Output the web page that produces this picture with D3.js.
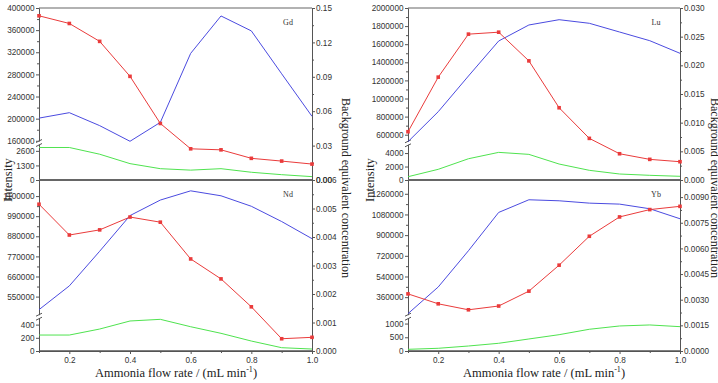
<!DOCTYPE html>
<html>
<head>
<meta charset="utf-8">
<script src="https://cdn.jsdelivr.net/npm/d3@7"></script>
<style>
body { margin: 0; background: #fff; }
.axis text { font-family: "Liberation Sans", Arial, sans-serif; font-size: 8.2px; fill: #333; }
.axis path, .axis line { stroke: #555; }
.title { font-family: "Liberation Serif", "Times New Roman", Times, serif; font-size: 12.5px; fill: #222; }
.tag { font-family: "Liberation Serif", "Times New Roman", Times, serif; font-size: 8px; fill: #333; }
</style>
</head>
<body>
<svg id="chart" width="718" height="383"></svg>
<script>
// x values shared by every panel
const flow_rates = [0.1, 0.2, 0.3, 0.4, 0.5, 0.6, 0.7, 0.8, 0.9, 1.0];
const x_ticks = [0.2, 0.4, 0.6, 0.8, 1.0];
const x_minor = [0.1, 0.3, 0.5, 0.7, 0.9];

// Gd
const gd_signal = [201000, 210800, 187400, 159100, 193300, 318000, 385600, 358600, 281100, 204200];
const gd_background = [2900, 2900, 2300, 1460, 1010, 880, 1010, 690, 475, 300];
const gd_bec = [0.1432, 0.1365, 0.1209, 0.0904, 0.0493, 0.0272, 0.0263, 0.0189, 0.0165, 0.0139];
const gd_upper_ticks = [160000, 200000, 240000, 280000, 320000, 360000, 400000];
const gd_lower_ticks = [0, 1300, 2600];
const gd_bec_ticks = [0, 0.03, 0.06, 0.09, 0.12, 0.15];

// Nd
const nd_signal = [478500, 608500, 798200, 993300, 1078300, 1128700, 1101600, 1044200, 960700, 867000];
const nd_background = [242, 242, 333, 455, 480, 368, 268, 151, 50, 30];
const nd_bec = [0.00515, 0.00407, 0.00425, 0.0047, 0.00452, 0.00323, 0.00253, 0.00155, 0.00043, 0.00048];
const nd_upper_ticks = [550000, 660000, 770000, 880000, 990000, 1100000];
const nd_lower_ticks = [0, 200, 400];
const nd_bec_ticks = [0, 0.001, 0.002, 0.003, 0.004, 0.005, 0.006];

// Lu
const lu_signal = [522700, 854100, 1248600, 1635400, 1812200, 1870700, 1831000, 1734800, 1638700, 1499400];
const lu_background = [489, 1585, 3156, 4104, 3807, 2370, 1437, 889, 696, 548];
const lu_bec = [0.00842, 0.01794, 0.02544, 0.02578, 0.02078, 0.0126, 0.00726, 0.00458, 0.0036, 0.00319];
const lu_upper_ticks = [600000, 800000, 1000000, 1200000, 1400000, 1600000, 1800000, 2000000];
const lu_lower_ticks = [0, 2000, 4000];
const lu_bec_ticks = [0, 0.005, 0.010, 0.015, 0.020, 0.025, 0.030];

// Yb
const yb_signal = [216500, 448700, 764300, 1097700, 1207800, 1199000, 1178600, 1170000, 1129600, 1042600];
const yb_background = [62, 99, 182, 281, 438, 595, 792, 912, 949, 887];
const yb_bec = [0.00334, 0.00276, 0.00241, 0.00263, 0.0035, 0.00502, 0.00671, 0.00784, 0.00827, 0.00846];
const yb_upper_ticks = [360000, 540000, 720000, 900000, 1080000, 1260000];
const yb_lower_ticks = [0, 500, 1000];
const yb_bec_ticks = [0, 0.0015, 0.0030, 0.0045, 0.0060, 0.0075, 0.0090];

const blue = '#4b4be0', red = '#ea3b3b', green = '#4fe34f';

const svg = d3.select('#chart');

const midpoints = function(ticks){
    var out = [];
    for (var i = 0; i < ticks.length - 1; i++) out.push((ticks[i] + ticks[i+1]) / 2);
    return out;
}

const draw_panel = function(p){
    const x = d3.scaleLinear().domain([0.1, 1.0]).range([p.left, p.right]);
    const y_up = d3.scaleLinear().domain(p.upper_domain).range([p.break_y, p.top]);
    const y_low = d3.scaleLinear().domain(p.lower_domain).range([p.bottom, p.break_y]);
    const y_bec = d3.scaleLinear().domain(p.bec_domain).range([p.bottom, p.top]);

    const g = svg.append('g');

    // left axis, upper part
    g.append('g')
        .attr('class', 'axis')
        .attr('transform', 'translate(' + p.left + ',0)')
        .call(d3.axisLeft(y_up).tickValues(p.upper_ticks).tickSize(3).tickPadding(1.5).tickSizeOuter(0).tickFormat(d3.format('d')));
    g.append('g')
        .attr('class', 'axis')
        .attr('transform', 'translate(' + p.left + ',0)')
        .call(d3.axisLeft(y_up).tickValues(midpoints(p.upper_ticks)).tickSize(2).tickSizeOuter(0).tickFormat(''));
    // left axis, lower part
    g.append('g')
        .attr('class', 'axis')
        .attr('transform', 'translate(' + p.left + ',0)')
        .call(d3.axisLeft(y_low).tickValues(p.lower_ticks).tickSize(3).tickPadding(1.5).tickSizeOuter(0).tickFormat(d3.format('d')));

    // axis break mark
    const b = p.break_y;
    g.append('rect')
        .attr('x', p.left - 2).attr('y', b - 1.5).attr('width', 4).attr('height', 3)
        .attr('fill', '#fff');
    g.append('path')
        .attr('d', `M${p.left-3},${b-0.5}L${p.left+3},${b-3.5}M${p.left-3},${b+3.5}L${p.left+3},${b+0.5}`)
        .attr('stroke', '#555').attr('stroke-width', 1).attr('fill', 'none');

    // right axis
    g.append('g')
        .attr('class', 'axis')
        .attr('transform', 'translate(' + p.right + ',0)')
        .call(d3.axisRight(y_bec).tickValues(p.bec_ticks).tickSize(3).tickPadding(1).tickSizeOuter(0).tickFormat(d3.format(p.bec_format)));
    g.append('g')
        .attr('class', 'axis')
        .attr('transform', 'translate(' + p.right + ',0)')
        .call(d3.axisRight(y_bec).tickValues(midpoints(p.bec_ticks)).tickSize(2).tickSizeOuter(0).tickFormat(''));

    // top and bottom frame
    if (p.top_frame) {
        g.append('path')
            .attr('d', `M${p.left},${p.top}H${p.right}`)
            .attr('stroke', '#666').attr('stroke-width', 1.2);
    }
    if (p.x_axis) {
        g.append('g')
            .attr('class', 'axis')
            .attr('transform', 'translate(0,' + p.bottom + ')')
            .call(d3.axisBottom(x).tickValues(x_ticks).tickSize(3).tickSizeOuter(0).tickFormat(d3.format('.1f')));
        g.append('g')
            .attr('class', 'axis')
            .attr('transform', 'translate(0,' + p.bottom + ')')
            .call(d3.axisBottom(x).tickValues(x_minor).tickSize(2).tickSizeOuter(0).tickFormat(''));
        g.append('path')
            .attr('d', `M${p.left},${p.bottom}H${p.right}`)
            .attr('stroke', '#555').attr('stroke-width', 1.4);
    } else {
        g.append('path')
            .attr('d', `M${p.left},${p.bottom}H${p.right}`)
            .attr('stroke', '#666').attr('stroke-width', 2);
    }

    // series
    const idx = d3.range(flow_rates.length);
    g.append('path')
        .attr('d', d3.line().x(i => x(flow_rates[i])).y(i => y_up(p.signal[i]))(idx))
        .attr('fill', 'none').attr('stroke', blue).attr('stroke-width', 1);
    g.append('path')
        .attr('d', d3.line().x(i => x(flow_rates[i])).y(i => y_low(p.background[i]))(idx))
        .attr('fill', 'none').attr('stroke', green).attr('stroke-width', 1);
    g.append('path')
        .attr('d', d3.line().x(i => x(flow_rates[i])).y(i => y_bec(p.bec[i]))(idx))
        .attr('fill', 'none').attr('stroke', red).attr('stroke-width', 1);
    g.selectAll('rect.pt')
        .data(idx)
        .enter()
    .append('rect')
        .attr('class', 'pt')
        .attr('x', i => x(flow_rates[i]) - 1.8)
        .attr('y', i => y_bec(p.bec[i]) - 1.8)
        .attr('width', 3.6).attr('height', 3.6)
        .attr('fill', red);

    // element label
    g.append('text')
        .attr('class', 'tag')
        .attr('x', p.right - 24)
        .attr('y', p.top + 17)
        .attr('text-anchor', 'middle')
        .text(p.name);
}

draw_panel({name: 'Gd', left: 39, right: 312, top: 8, bottom: 180, break_y: 143,
    upper_domain: [156000, 400000], lower_domain: [0, 3300], bec_domain: [0, 0.15],
    upper_ticks: gd_upper_ticks, lower_ticks: gd_lower_ticks, bec_ticks: gd_bec_ticks, bec_format: '.2f',
    signal: gd_signal, background: gd_background, bec: gd_bec, top_frame: true, x_axis: false});
draw_panel({name: 'Nd', left: 39, right: 312, top: 180, bottom: 351, break_y: 316.7,
    upper_domain: [440000, 1188000], lower_domain: [0, 520], bec_domain: [0, 0.006],
    upper_ticks: nd_upper_ticks, lower_ticks: nd_lower_ticks, bec_ticks: nd_bec_ticks, bec_format: '.3f',
    signal: nd_signal, background: nd_background, bec: nd_bec, top_frame: false, x_axis: true});
draw_panel({name: 'Lu', left: 408, right: 680, top: 8, bottom: 180, break_y: 143.3,
    upper_domain: [505000, 2000000], lower_domain: [0, 5450], bec_domain: [0, 0.03],
    upper_ticks: lu_upper_ticks, lower_ticks: lu_lower_ticks, bec_ticks: lu_bec_ticks, bec_format: '.3f',
    signal: lu_signal, background: lu_background, bec: lu_bec, top_frame: true, x_axis: false});
draw_panel({name: 'Yb', left: 408, right: 680, top: 180, bottom: 351, break_y: 316.7,
    upper_domain: [190000, 1380000], lower_domain: [0, 1250], bec_domain: [0, 0.01],
    upper_ticks: yb_upper_ticks, lower_ticks: yb_lower_ticks, bec_ticks: yb_bec_ticks, bec_format: '.4f',
    signal: yb_signal, background: yb_background, bec: yb_bec, top_frame: false, x_axis: true});

// axis titles
[{cx: 176, ix: 12, bx: 342}, {cx: 544, ix: 374, bx: 711}].forEach(function(c){
    svg.append('text')
        .attr('class', 'title')
        .attr('text-anchor', 'middle')
        .attr('transform', 'translate(' + c.ix + ',180) rotate(-90)')
        .text('Intensity');
    svg.append('text')
        .attr('class', 'title')
        .attr('text-anchor', 'middle')
        .style('font-size', '12px')
        .attr('transform', 'translate(' + c.bx + ',188) rotate(90)')
        .text('Background equivalent concentration');
    const t = svg.append('text')
        .attr('class', 'title')
        .attr('text-anchor', 'middle')
        .attr('x', c.cx)
        .attr('y', 377);
    t.append('tspan').text('Ammonia flow rate / (mL min');
    t.append('tspan').attr('dy', -5).style('font-size', '8px').text('-1');
    t.append('tspan').attr('dy', 5).text(')');
});
</script>
</body>
</html>
